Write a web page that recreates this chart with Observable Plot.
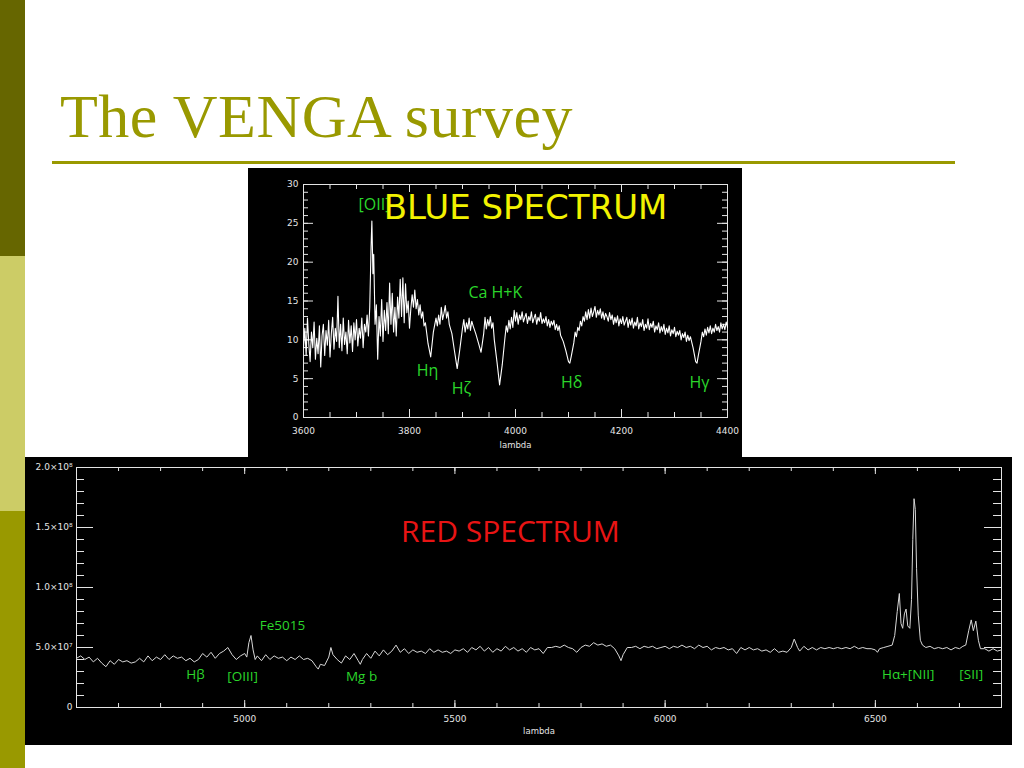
<!DOCTYPE html>
<html><head><meta charset="utf-8">
<script src="https://cdn.jsdelivr.net/npm/d3@7"></script>
<script src="https://cdn.jsdelivr.net/npm/@observablehq/plot@0.6"></script>
<style>
body{margin:0;background:#fff;width:1024px;height:768px;overflow:hidden;position:relative;font-family:"DejaVu Sans",sans-serif}
.bar{position:absolute;left:0;width:25px}
#title{position:absolute;left:60px;top:85px;font-family:"Liberation Serif",serif;font-size:62px;line-height:62px;color:#999900;white-space:nowrap;letter-spacing:0.5px}
#rule{position:absolute;left:52px;top:161px;width:903px;height:3px;background:#999900}
#blue{position:absolute;left:248px;top:168px}
#red{position:absolute;left:25px;top:457px}
svg{display:block}
</style>
</head><body>
<div class="bar" style="top:0;height:256px;background:#666600"></div>
<div class="bar" style="top:256px;height:255px;background:#cccc66"></div>
<div class="bar" style="top:511px;height:257px;background:#999900"></div>
<div id="title">The VENGA survey</div>
<div id="rule"></div>
<div id="blue"></div>
<div id="red"></div>
<script>
// ---------- BLUE SPECTRUM (lambda [Å], flux) ----------
const blueSpectrum = [
[3600,9.0],[3602.5,11.5],[3605,8.0],[3607.5,12.8],[3610,9.5],[3612.5,7.2],[3615,11.0],[3617.5,9.0],[3620,12.3],[3622.5,7.5],
[3625,10.2],[3627.5,8.2],[3630,11.8],[3632.5,6.5],[3635,10.5],[3637.5,12.0],[3640,8.0],[3642.5,11.2],[3645,9.3],[3647.5,12.5],
[3650,7.8],[3652.5,10.8],[3655,12.9],[3657.5,8.8],[3660,11.5],[3662.5,9.8],[3665,15.6],[3667.5,9.0],[3670,12.0],[3672.5,8.6],
[3675,12.8],[3677.5,9.4],[3680,11.0],[3682.5,8.2],[3685,12.5],[3687.5,9.6],[3690,11.8],[3692.5,8.5],[3695,12.2],[3697.5,10.0],
[3700,12.6],[3702.5,9.2],[3705,11.5],[3707.5,10.2],[3710,12.8],[3712.5,9.0],[3715,12.0],[3717.5,11.0],[3720,13.2],[3722.5,10.5],
[3725,14.2],[3727.5,22.0],[3729,25.3],[3731,18.5],[3732.5,21.0],[3735,12.0],[3737.5,14.5],[3740,7.5],[3742.5,13.0],[3745,10.5],
[3747.5,15.2],[3750,9.8],[3752.5,13.8],[3755,11.2],[3757.5,14.8],[3760,10.8],[3762.5,17.3],[3765,12.0],[3767.5,16.0],[3770,11.0],
[3772.5,14.2],[3775,10.5],[3777.5,15.5],[3780,12.8],[3782.5,17.8],[3785,13.0],[3787.5,18.0],[3790,12.2],[3792.5,17.2],[3795,13.5],
[3797.5,15.0],[3800,11.5],[3802.5,14.0],[3805,15.8],[3807.5,14.2],[3810,16.4],[3812.5,14.0],[3815,15.2],[3817.5,13.2],[3820,14.5],
[3822.5,12.8],[3825,13.6],[3827.5,11.8],[3830,12.2],[3835,9.5],[3840,7.8],[3845,11.0],[3850,12.8],[3852.5,11.8],[3855,13.2],
[3857.5,12.0],[3860,14.2],[3862.5,12.6],[3865,13.4],[3867.5,14.4],[3870,12.8],[3872.5,13.6],[3875,12.0],[3880,10.8],[3885,8.5],
[3890,6.3],[3895,8.8],[3900,11.5],[3902.5,12.6],[3905,11.0],[3907.5,12.2],[3910,11.4],[3912.5,12.8],[3915,11.2],[3917.5,12.4],
[3920,11.8],[3925,10.8],[3930,9.6],[3935,8.4],[3940,10.8],[3942.5,12.9],[3945,11.4],[3947.5,12.6],[3950,11.8],[3952.5,13.0],
[3955,11.5],[3957.5,12.2],[3960,10.0],[3965,7.2],[3970,4.2],[3975,6.8],[3980,10.2],[3982.5,11.8],[3985,11.0],[3987.5,12.5],
[3990,11.4],[3992.5,12.9],[3995,11.6],[3997.5,13.8],[4000,12.4],[4002.5,13.5],[4005,12.0],[4007.5,13.2],[4010,12.6],[4012.5,13.6],
[4015,12.3],[4017.5,12.9],[4020,13.4],[4022.5,12.1],[4025,13.0],[4027.5,12.5],[4030,13.6],[4032.5,12.2],[4035,12.8],[4037.5,13.3],
[4040,12.0],[4042.5,12.9],[4045,12.4],[4047.5,13.5],[4050,12.1],[4052.5,12.7],[4055,12.2],[4057.5,13.0],[4060,11.8],[4062.5,12.6],
[4065,11.6],[4067.5,12.4],[4070,11.9],[4072.5,12.5],[4075,11.3],[4077.5,12.0],[4080,11.2],[4082.5,11.8],[4085,10.6],[4090,9.8],
[4095,8.6],[4100,7.2],[4102.5,7.0],[4105,7.8],[4110,9.6],[4112.5,11.0],[4115,10.4],[4117.5,11.6],[4120,11.2],[4122.5,12.4],
[4125,11.8],[4127.5,13.0],[4130,12.4],[4132.5,13.6],[4135,12.6],[4137.5,13.9],[4140,12.8],[4142.5,14.1],[4145,13.0],[4147.5,13.6],
[4150,14.3],[4152.5,12.9],[4155,13.8],[4157.5,13.2],[4160,14.0],[4162.5,12.8],[4165,13.6],[4167.5,12.6],[4170,13.4],[4172.5,13.0],
[4175,12.4],[4177.5,13.5],[4180,12.6],[4182.5,13.2],[4185,12.0],[4187.5,12.9],[4190,12.2],[4192.5,13.1],[4195,11.8],[4197.5,12.7],
[4200,12.1],[4202.5,13.0],[4205,11.9],[4207.5,12.4],[4210,12.9],[4212.5,11.6],[4215,12.6],[4217.5,11.9],[4220,12.8],[4222.5,11.5],
[4225,12.3],[4227.5,11.8],[4230,12.9],[4232.5,11.4],[4235,12.2],[4237.5,11.7],[4240,12.6],[4242.5,11.2],[4245,12.0],[4247.5,11.5],
[4250,12.7],[4252.5,11.3],[4255,12.1],[4257.5,11.6],[4260,12.4],[4262.5,11.0],[4265,11.8],[4267.5,11.3],[4270,12.2],[4272.5,10.9],
[4275,11.7],[4277.5,11.1],[4280,12.0],[4282.5,10.7],[4285,11.5],[4287.5,10.9],[4290,11.8],[4292.5,10.5],[4295,11.3],[4297.5,10.8],
[4300,11.6],[4302.5,10.4],[4305,11.1],[4307.5,10.6],[4310,11.2],[4312.5,10.0],[4315,10.8],[4317.5,10.3],[4320,11.0],[4322.5,9.8],
[4325,10.6],[4327.5,9.9],[4330,10.4],[4335,9.0],[4340,7.2],[4342.5,7.0],[4345,8.0],[4350,9.8],[4352.5,11.0],[4355,10.4],
[4357.5,11.4],[4360,10.6],[4362.5,11.6],[4365,10.9],[4367.5,11.8],[4370,10.8],[4372.5,11.5],[4375,11.0],[4377.5,12.0],[4380,11.2],
[4382.5,11.7],[4385,11.0],[4387.5,12.2],[4390,11.4],[4392.5,12.0],[4395,11.3],[4397.5,12.3],[4400,11.6]
];
const blueXTicks = [3600, 3800, 4000, 4200, 4400];
const blueXTickLabels = ["3600", "3800", "4000", "4200", "4400"];
const blueYTicks = [0, 5, 10, 15, 20, 25, 30];
const blueYTickLabels = ["0", "5", "10", "15", "20", "25", "30"];
const blueLabelText = ["[OII]", "Ca H+K", "Hη", "Hζ", "Hδ", "Hγ"];
const blueLabelLambda = [3734, 3962, 3834, 3898, 4106, 4347];
const blueLabelFlux = [27.4, 16.0, 6.0, 3.7, 4.5, 4.5];

// ---------- RED SPECTRUM (lambda [Å], flux in units of 1e7) ----------
const redSpectrum = [
[4600,4.1],[4610,4.3],[4620,4.0],[4630,4.2],[4640,3.8],[4650,4.1],[4660,3.7],[4670,3.4],[4680,3.9],[4690,3.6],
[4700,4.0],[4710,3.8],[4720,3.9],[4730,3.7],[4740,3.8],[4750,4.1],[4760,3.8],[4770,4.3],[4780,3.9],[4790,4.2],
[4800,4.0],[4810,4.4],[4820,4.0],[4830,4.3],[4840,4.1],[4850,4.2],[4860,3.9],[4870,4.1],[4880,3.8],[4890,4.0],
[4900,4.5],[4910,4.2],[4920,4.6],[4930,4.1],[4940,4.5],[4950,4.7],[4960,5.0],[4970,4.4],[4980,4.0],[4990,4.3],
[5000,4.5],[5005,4.2],[5010,5.4],[5015,6.0],[5020,4.8],[5025,4.0],[5030,4.3],[5040,3.9],[5050,4.4],[5060,4.0],
[5070,4.3],[5080,4.1],[5090,4.2],[5100,3.9],[5110,4.2],[5120,4.0],[5130,4.3],[5140,4.0],[5150,4.1],[5160,3.9],
[5170,3.4],[5175,3.2],[5180,3.6],[5190,3.5],[5200,4.2],[5205,5.0],[5210,4.4],[5220,4.0],[5230,3.7],[5240,4.3],
[5250,4.0],[5260,4.5],[5270,3.9],[5275,3.6],[5280,4.0],[5290,4.5],[5300,4.1],[5310,4.7],[5320,4.3],[5330,4.8],
[5340,4.4],[5350,4.7],[5360,5.2],[5370,4.6],[5380,4.9],[5390,4.5],[5400,4.8],[5410,4.6],[5420,4.7],[5430,4.5],
[5440,4.9],[5450,4.6],[5460,4.8],[5470,4.6],[5480,4.7],[5490,4.5],[5500,4.8],[5510,4.7],[5520,4.9],[5530,4.6],
[5540,5.0],[5550,4.8],[5560,5.1],[5570,4.7],[5580,5.0],[5590,4.6],[5600,4.9],[5610,4.7],[5620,5.1],[5630,4.8],
[5640,5.0],[5650,4.7],[5660,4.9],[5670,4.6],[5680,5.0],[5690,4.8],[5700,4.9],[5710,4.5],[5720,5.0],[5730,5.0],
[5740,5.1],[5750,5.0],[5760,5.2],[5770,5.0],[5780,4.9],[5790,4.6],[5800,5.0],[5810,5.2],[5820,5.1],[5830,5.4],
[5840,5.2],[5850,5.3],[5860,5.1],[5870,5.2],[5880,4.9],[5890,4.3],[5895,3.9],[5900,4.4],[5910,5.0],[5920,5.0],
[5930,5.1],[5940,4.9],[5950,5.1],[5960,5.0],[5970,5.1],[5980,4.9],[5990,5.0],[6000,5.1],[6010,4.9],[6020,5.1],
[6030,5.0],[6040,5.2],[6050,5.0],[6060,5.1],[6070,4.9],[6080,5.2],[6090,5.0],[6100,5.1],[6110,4.8],[6120,5.0],
[6130,4.9],[6140,5.0],[6150,4.8],[6160,4.9],[6170,4.5],[6180,5.0],[6190,4.8],[6200,5.0],[6210,4.8],[6220,4.9],
[6230,4.7],[6240,4.8],[6250,4.6],[6260,4.9],[6270,4.6],[6280,4.7],[6290,4.6],[6300,5.0],[6307,5.7],[6315,5.0],
[6320,4.7],[6330,5.1],[6340,4.8],[6350,5.0],[6360,4.8],[6370,5.0],[6380,4.9],[6390,5.0],[6400,4.9],[6410,5.0],
[6420,4.9],[6430,5.0],[6440,4.9],[6450,5.1],[6460,4.9],[6470,5.0],[6480,4.9],[6490,4.9],[6500,4.8],[6505,4.6],
[6510,4.9],[6520,5.0],[6530,5.1],[6540,5.2],[6546,6.0],[6552,8.0],[6557,9.5],[6561,7.0],[6565,6.6],[6569,7.8],
[6573,8.2],[6577,6.8],[6582,6.6],[6586,9.0],[6589,14.0],[6592,17.4],[6595,16.5],[6598,11.6],[6602,7.7],[6607,5.6],
[6612,5.2],[6620,5.0],[6630,5.1],[6640,4.9],[6650,5.0],[6660,4.9],[6670,5.0],[6680,4.8],[6690,5.0],[6700,4.9],
[6708,5.1],[6715,5.2],[6722,6.4],[6728,7.3],[6733,6.4],[6739,7.2],[6745,5.6],[6750,4.9],[6760,4.9],[6770,4.7],
[6780,4.9],[6790,4.7],[6800,4.8]
];
const redXTicks = [5000, 5500, 6000, 6500];
const redXTickLabels = ["5000", "5500", "6000", "6500"];
const redYTicks = [0, 5, 10, 15, 20];
const redYTickLabels = ["0", "5.0×10⁷", "1.0×10⁸", "1.5×10⁸", "2.0×10⁸"];
const redLabelText = ["Fe5015", "Hβ", "[OIII]", "Mg b", "Hα+[NII]", "[SII]"];
const redLabelLambda = [5090, 4883, 4995, 5278, 6578, 6728];
const redLabelFlux = [6.8, 2.75, 2.6, 2.6, 2.75, 2.75];

const GREEN = "#2bd62b", AXIS = "#e4e4e4";

function frameTicks(o) {
  // inward IDL-style ticks on all four sides
  const pw = o.width - o.ml - o.mr, ph = o.height - o.mt - o.mb;
  const m = [];
  const xs = (arr, len) => [
    Plot.tickX(arr, {x: d => d, stroke: AXIS, insetTop: ph - len}),
    Plot.tickX(arr, {x: d => d, stroke: AXIS, insetBottom: ph - len})
  ];
  const ys = (arr, len) => [
    Plot.tickY(arr, {y: d => d, stroke: AXIS, insetRight: pw - len}),
    Plot.tickY(arr, {y: d => d, stroke: AXIS, insetLeft: pw - len})
  ];
  m.push(...xs(o.xMinor, o.xMinLen), ...xs(o.xMajor, o.xMajLen), ...ys(o.yMinor, o.yMinLen), ...ys(o.yMajor, o.yMajLen));
  return m;
}

// Blue plot
const bo = {width: 494, height: 289, ml: 55, mr: 15, mt: 16, mb: 40,
  xMinor: d3.range(3600, 4401, 50), xMajor: blueXTicks, xMinLen: 5, xMajLen: 8,
  yMinor: d3.range(0, 31, 1), yMajor: blueYTicks, yMinLen: 5, yMajLen: 10};
const bluePlot = Plot.plot({
  width: bo.width, height: bo.height,
  marginLeft: bo.ml, marginRight: bo.mr, marginTop: bo.mt, marginBottom: bo.mb,
  style: {background: "#000", color: AXIS, fontFamily: "DejaVu Sans", overflow: "visible"},
  x: {domain: [3600, 4400], axis: null},
  y: {domain: [0, 30], axis: null},
  marks: [
    ...frameTicks(bo),
    Plot.frame({stroke: AXIS}),
    Plot.text(blueXTicks, {x: d => d, frameAnchor: "bottom", dy: 16, text: (d, i) => blueXTickLabels[i], fill: AXIS, fontSize: 9}),
    Plot.text(blueYTicks, {y: d => d, frameAnchor: "left", dx: -5, textAnchor: "end", text: (d, i) => blueYTickLabels[i], fill: AXIS, fontSize: 9}),
    Plot.text(["lambda"], {frameAnchor: "bottom", dy: 30, fill: AXIS, fontSize: 8.5}),
    Plot.line(blueSpectrum, {x: d => d[0], y: d => d[1], stroke: "#fff", strokeWidth: 1.1}),
    Plot.text(blueLabelText, {x: (d, i) => blueLabelLambda[i], y: (d, i) => blueLabelFlux[i], text: d => d, fill: GREEN, fontSize: 16, fontFamily: "Open Sans"}),
    Plot.text(["BLUE SPECTRUM"], {x: [4019], y: [27.0], text: d => d, fill: "#f2f200", fontSize: 34, fontFamily: "DejaVu Sans"})
  ]
});
document.getElementById("blue").append(bluePlot);

// Red plot
const ro = {width: 987, height: 288, ml: 51, mr: 11, mt: 10, mb: 38,
  xMinor: d3.range(4600, 6801, 100), xMajor: redXTicks, xMinLen: 4, xMajLen: 7,
  yMinor: d3.range(0, 21, 1), yMajor: redYTicks, yMinLen: 8, yMajLen: 17};
const redPlot = Plot.plot({
  width: ro.width, height: ro.height,
  marginLeft: ro.ml, marginRight: ro.mr, marginTop: ro.mt, marginBottom: ro.mb,
  style: {background: "#000", color: AXIS, fontFamily: "DejaVu Sans", overflow: "visible"},
  x: {domain: [4600, 6800], axis: null},
  y: {domain: [0, 20], axis: null},
  marks: [
    ...frameTicks(ro),
    Plot.frame({stroke: AXIS}),
    Plot.text(redXTicks, {x: d => d, frameAnchor: "bottom", dy: 14, text: (d, i) => redXTickLabels[i], fill: AXIS, fontSize: 9}),
    Plot.text(redYTicks, {y: d => d, frameAnchor: "left", dx: -4, textAnchor: "end", text: (d, i) => redYTickLabels[i], fill: AXIS, fontSize: 9}),
    Plot.text(["lambda"], {frameAnchor: "bottom", dy: 26, fill: AXIS, fontSize: 8.5}),
    Plot.line(redSpectrum, {x: d => d[0], y: d => d[1], stroke: "#d8d8d8", strokeWidth: 1}),
    Plot.text(redLabelText, {x: (d, i) => redLabelLambda[i], y: (d, i) => redLabelFlux[i], text: d => d, fill: GREEN, fontSize: 13.5, fontFamily: "Open Sans"}),
    Plot.text(["RED SPECTRUM"], {x: [5632], y: [14.6], text: d => d, fill: "#e81414", fontSize: 30, fontFamily: "Open Sans"})
  ]
});
document.getElementById("red").append(redPlot);
</script>
</body></html>
